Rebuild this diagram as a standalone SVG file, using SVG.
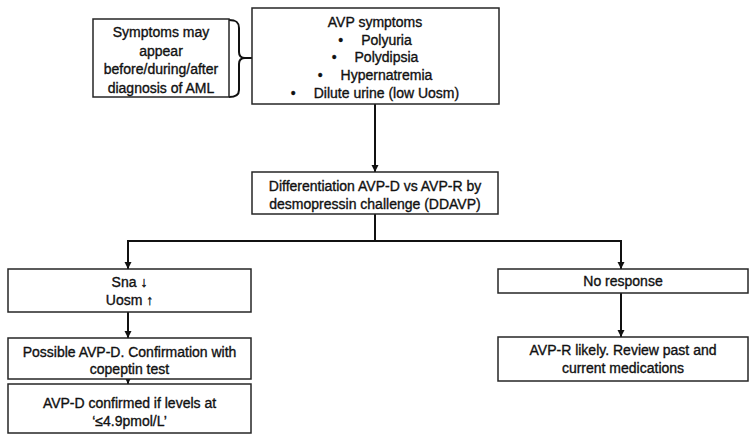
<svg xmlns="http://www.w3.org/2000/svg" width="750" height="441" viewBox="0 0 750 441">
<defs>
<style>
.box{fill:#fff;stroke:#262626;stroke-width:1.5}
.ln{fill:none;stroke:#111;stroke-width:2}
.arr{fill:none;stroke:#111;stroke-width:2;marker-end:url(#ah)}
text{font-family:"Liberation Sans",Arial,sans-serif;font-size:14px;fill:#111;stroke:#111;stroke-width:0.35;text-anchor:middle}
</style>
<marker id="ah" markerUnits="userSpaceOnUse" markerWidth="8" markerHeight="8" refX="7" refY="4" orient="auto">
<path d="M0,0.5 L7,4 L0,7.5 Z" fill="#111"/>
</marker>
</defs>
<rect width="750" height="441" fill="#fff"/>
<g id="connectors">
<path class="ln" d="M229,20 C236,20 239,22 239,28 L239,52 C239,56 241,58 245,58 C241,58 239,60 239,64 L239,90 C239,95 236,97 229,97 M245,58 H252"/>
<path class="arr" d="M375,104 V172"/>
<path class="ln" d="M375,214 V241 M128,241 H622"/>
<path class="arr" d="M128,240 V269"/>
<path class="arr" d="M621,240 V269"/>
<path class="arr" d="M128,312 V338"/>
<path class="arr" d="M128,379 V384"/>
<path class="arr" d="M621,293 V337"/>
</g>
<g id="note">
<rect class="box" x="93" y="19" width="136" height="78"/>
<text x="161" y="37">Symptoms may</text>
<text x="161" y="56">appear</text>
<text x="161" y="74">before/during/after</text>
<text x="161" y="93">diagnosis of AML</text>
</g>
<g id="symptoms">
<rect class="box" x="252" y="8" width="247" height="96"/>
<text x="375" y="27">AVP symptoms</text>
<text x="375" y="45"><tspan>•</tspan><tspan dx="18">Polyuria</tspan></text>
<text x="375" y="62"><tspan>•</tspan><tspan dx="18">Polydipsia</tspan></text>
<text x="375" y="80"><tspan>•</tspan><tspan dx="18">Hypernatremia</tspan></text>
<text x="375" y="98"><tspan>•</tspan><tspan dx="18">Dilute urine (low Uosm)</tspan></text>
</g>
<g id="differentiation">
<rect class="box" x="252" y="172" width="246" height="42"/>
<text x="375" y="191">Differentiation AVP-D vs AVP-R by</text>
<text x="375" y="209">desmopressin challenge (DDAVP)</text>
</g>
<g id="response">
<rect class="box" x="8" y="269" width="243" height="43"/>
<text x="129.5" y="287">Sna ↓</text>
<text x="129.5" y="305">Uosm ↑</text>
</g>
<g id="possible">
<rect class="box" x="8" y="338" width="243" height="41"/>
<text x="129.5" y="357">Possible AVP-D. Confirmation with</text>
<text x="129.5" y="374">copeptin test</text>
</g>
<g id="confirmed">
<rect class="box" x="8" y="384" width="243" height="49"/>
<text x="129.5" y="408">AVP-D confirmed if levels at</text>
<text x="129.5" y="426">‘≤4.9pmol/L’</text>
</g>
<g id="noresponse">
<rect class="box" x="498" y="269" width="250" height="24"/>
<text x="623" y="286">No response</text>
</g>
<g id="avpr">
<rect class="box" x="498" y="337" width="250" height="44"/>
<text x="623" y="355">AVP-R likely. Review past and</text>
<text x="623" y="373">current medications</text>
</g>
</svg>
